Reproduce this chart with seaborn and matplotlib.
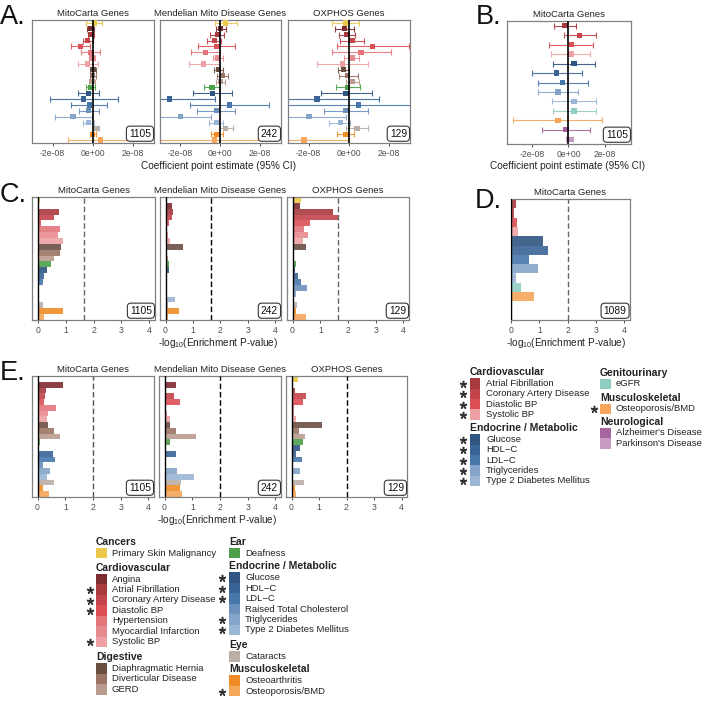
import numpy as np
import pandas as pd
import matplotlib
matplotlib.use("Agg")
import matplotlib.pyplot as plt
import seaborn as sns
from matplotlib.patches import Rectangle
from matplotlib.lines import Line2D

# ---------------- data ----------------
traits = ["Primary Skin Malignancy", "Angina", "Atrial Fibrillation", "Coronary Artery Disease",
          "Diastolic BP", "Hypertension", "Myocardial Infarction", "Systolic BP",
          "Diaphragmatic Hernia", "Diverticular Disease", "GERD", "Deafness",
          "Glucose", "HDL\u2212C", "LDL\u2212C", "Raised Total Cholesterol", "Triglycerides",
          "Type 2 Diabetes Mellitus", "Cataracts", "Osteoarthritis", "Osteoporosis/BMD"]
B_traits = ["Atrial Fibrillation", "Coronary Artery Disease", "Diastolic BP", "Systolic BP",
            "Glucose", "HDL\u2212C", "LDL\u2212C", "Triglycerides", "Type 2 Diabetes Mellitus",
            "eGFR", "Osteoporosis/BMD", "Alzheimer's Disease", "Parkinson's Disease"]
facets = ["MitoCarta Genes", "Mendelian Mito Disease Genes", "OXPHOS Genes"]
facet_counts = [1105, 242, 129]
B_count = 1105
D_count = 1089

trait_colors = {
    "Primary Skin Malignancy": "#EBC84C",
    "Angina": "#7E2B32", "Atrial Fibrillation": "#A8393F", "Coronary Artery Disease": "#C3444A",
    "Diastolic BP": "#DC4F55", "Hypertension": "#E3747A", "Myocardial Infarction": "#E88B8F",
    "Systolic BP": "#EDA1A4",
    "Diaphragmatic Hernia": "#6C4F43", "Diverticular Disease": "#9A7464", "GERD": "#B99C8F",
    "Deafness": "#4DA04B",
    "Glucose": "#2F5580", "HDL\u2212C": "#3A6496", "LDL\u2212C": "#4776AA",
    "Raised Total Cholesterol": "#6C90BC", "Triglycerides": "#85A4C9",
    "Type 2 Diabetes Mellitus": "#9BB5D5",
    "Cataracts": "#BAAEA7", "Osteoarthritis": "#F08C26", "Osteoporosis/BMD": "#F5A65B",
    "eGFR": "#8FCDC3", "Alzheimer's Disease": "#A5659F", "Parkinson's Disease": "#C899C1",
}

# Panel A: coefficient estimates and 95% CI (units of 1e-8)
A_mito_est = [0.10, -0.08, -0.08, -0.25, -0.61, -0.08, -0.03, -0.25, 0.02, 0.00, -0.03, -0.12,
              -0.20, -0.45, -0.15, -0.20, -0.98, -0.20, 0.17, 0.00, 0.38]
A_mito_lo = [-0.31, -0.28, -0.25, -0.48, -1.07, -0.58, -0.20, -0.73, -0.15, -0.15, -0.17, -0.31,
             -0.73, -2.13, -1.06, -0.66, -1.88, -0.48, 0.00, -0.15, -1.22]
A_mito_hi = [0.46, 0.08, 0.08, 0.00, -0.15, 0.38, 0.13, 0.25, 0.18, 0.17, 0.10, 0.10,
             0.33, 1.24, 0.71, 0.33, -0.03, 0.05, 0.33, 0.18, 2.00]
A_men_est = [0.26, 0.00, -0.15, -0.28, -0.20, -0.73, -0.12, -0.83, -0.08, 0.10, 0.02, -0.41,
             -0.40, -2.55, 0.46, -0.20, -1.98, -0.20, 0.26, -0.17, -0.28]
A_men_lo = [-0.28, -0.23, -0.50, -0.64, -1.10, -1.44, -0.36, -1.55, -0.31, -0.17, -0.20, -0.83,
            -1.36, -3.40, -1.49, -1.14, -3.30, -0.56, -0.08, -0.48, -3.60]
A_men_hi = [0.83, 0.30, 0.21, 0.05, 0.76, -0.03, 0.13, -0.07, 0.13, 0.38, 0.26, 0.00,
            0.58, -0.28, 2.45, 0.76, -0.48, 0.13, 0.63, 0.13, 3.60]
A_ox_est = [-0.17, -0.21, -0.08, 0.17, 1.19, 0.61, 0.17, -0.30, -0.26, -0.05, 0.20, -0.05,
            -0.13, -1.57, 0.50, -0.13, -1.98, -0.41, 0.41, -0.13, -2.23]
A_ox_lo = [-0.83, -0.66, -0.50, -0.41, -0.58, -0.83, -0.21, -1.57, -0.55, -0.50, -0.13, -0.63,
           -1.40, -3.40, -3.50, -1.24, -3.30, -0.96, -0.13, -0.58, -3.40]
A_ox_hi = [0.50, 0.25, 0.33, 0.74, 3.01, 2.10, 0.53, 0.94, 0.00, 0.45, 0.53, 0.58,
           1.16, 1.49, 3.60, 0.94, -0.13, 0.08, 0.94, 0.25, -0.05]

# Panel B (units of 1e-8)
B_est = [-0.18, 0.60, 0.15, 0.13, 0.31, -0.67, -0.31, -0.58, 0.31, 0.31, -0.58, -0.13, 0.09]
B_lo = [-0.78, -0.27, -1.09, -0.96, -0.82, -2.00, -1.64, -1.67, -0.91, -0.87, -3.05, -1.42, -0.13]
B_hi = [0.40, 1.49, 1.36, 1.18, 1.45, 0.73, 1.05, 0.51, 1.51, 1.51, 1.85, 1.18, 0.27]

# Panel C: -log10 enrichment p
C_mito = [0.10, 0.03, 0.78, 0.57, 0.12, 0.80, 0.72, 0.90, 0.82, 0.80, 0.58, 0.48,
          0.34, 0.24, 0.18, 0.00, 0.03, 0.06, 0.20, 0.90, 0.22]
C_men = [0.03, 0.24, 0.29, 0.24, 0.12, 0.07, 0.10, 0.15, 0.64, 0.02, 0.10, 0.13,
         0.13, 0.02, 0.03, 0.06, 0.00, 0.34, 0.10, 0.48, 0.10]
C_ox = [0.29, 0.26, 1.45, 1.67, 0.62, 0.40, 0.56, 0.38, 0.48, 0.05, 0.02, 0.14,
        0.08, 0.20, 0.30, 0.52, 0.14, 0.00, 0.17, 0.14, 0.48]
C_thresh = 1.65

# Panel D
D_vals = [0.18, 0.08, 0.20, 0.22, 1.12, 1.29, 0.63, 0.93, 0.16, 0.33, 0.81, 0.03, 0.03]
D_thresh = 2.0

# Panel E
E_mito = [0.02, 0.90, 0.30, 0.28, 0.22, 0.66, 0.36, 0.33, 0.39, 0.60, 0.80, 0.10,
          0.05, 0.54, 0.62, 0.20, 0.46, 0.34, 0.60, 0.20, 0.42]
E_men = [0.03, 0.41, 0.05, 0.35, 0.57, 0.05, 0.08, 0.18, 0.20, 0.43, 1.15, 0.18,
         0.04, 0.41, 0.03, 0.05, 0.45, 1.06, 0.60, 0.54, 0.63]
E_ox = [0.24, 0.05, 0.12, 0.52, 0.40, 0.10, 0.10, 0.18, 1.12, 0.28, 0.48, 0.40,
        0.30, 0.16, 0.39, 0.06, 0.30, 0.02, 0.46, 0.14, 0.18]
E_thresh = 2.0

# legend content
E_legend_left = [("Cancers", ["Primary Skin Malignancy"]),
                 ("Cardiovascular", ["Angina", "Atrial Fibrillation", "Coronary Artery Disease",
                                     "Diastolic BP", "Hypertension", "Myocardial Infarction", "Systolic BP"]),
                 ("Digestive", ["Diaphragmatic Hernia", "Diverticular Disease", "GERD"])]
E_legend_right = [("Ear", ["Deafness"]),
                  ("Endocrine / Metabolic", ["Glucose", "HDL\u2212C", "LDL\u2212C", "Raised Total Cholesterol",
                                             "Triglycerides", "Type 2 Diabetes Mellitus"]),
                  ("Eye", ["Cataracts"]),
                  ("Musculoskeletal", ["Osteoarthritis", "Osteoporosis/BMD"])]
D_legend_left = [("Cardiovascular", ["Atrial Fibrillation", "Coronary Artery Disease", "Diastolic BP", "Systolic BP"]),
                 ("Endocrine / Metabolic", ["Glucose", "HDL\u2212C", "LDL\u2212C", "Triglycerides",
                                            "Type 2 Diabetes Mellitus"])]
D_legend_right = [("Genitourinary", ["eGFR"]),
                  ("Musculoskeletal", ["Osteoporosis/BMD"]),
                  ("Neurological", ["Alzheimer's Disease", "Parkinson's Disease"])]
starred = {"Atrial Fibrillation", "Coronary Artery Disease", "Diastolic BP", "Systolic BP",
           "Glucose", "HDL\u2212C", "LDL\u2212C", "Triglycerides", "Type 2 Diabetes Mellitus",
           "Osteoporosis/BMD"}

# ---------------- drawing ----------------
sns.set_theme(style="white")
plt.rcParams['font.family'] = ['Liberation Sans', 'DejaVu Sans']
plt.rcParams['mathtext.default'] = 'regular'

W, H = 723, 711
fig = plt.figure(figsize=(W / 100, H / 100), dpi=100)
fig.patch.set_facecolor("white")
SCALE = 1e-8
TXT = "#222222"


def add_ax(x0, x1, y0, y1):
    return fig.add_axes([x0 / W, 1 - y1 / H, (x1 - x0) / W, (y1 - y0) / H])


def style_ax(ax):
    for s in ax.spines.values():
        s.set_visible(True)
        s.set_color("#808080")
        s.set_linewidth(0.9)
    ax.tick_params(axis="x", bottom=True, length=2.5, width=0.6, color="#333333",
                   labelsize=6.2, labelcolor="#4d4d4d", pad=1.5)
    ax.tick_params(axis="y", left=False, labelleft=False)
    ax.set_xlabel("")
    ax.set_ylabel("")


def count_box(ax, n):
    ax.text(0.975, 0.035, str(n), transform=ax.transAxes, ha="right", va="bottom",
            fontsize=7.4, color="#111111", zorder=10,
            bbox=dict(boxstyle="round,pad=0.25,rounding_size=0.35", fc="white", ec="#333333", lw=0.8))


def forest(ax, names, est, lo, hi, xlim, title, n):
    df = pd.DataFrame({"trait": names,
                       "est": np.array(est) * SCALE,
                       "lo": np.array(lo) * SCALE,
                       "hi": np.array(hi) * SCALE})
    df["row"] = np.arange(len(df))
    for r in df.itertuples():
        ax.errorbar(r.est, r.row, xerr=[[r.est - r.lo], [r.hi - r.est]], fmt="none",
                    ecolor=trait_colors[r.trait], elinewidth=0.8, capsize=1.9, capthick=0.8,
                    alpha=0.9, zorder=2)
    sns.scatterplot(data=df, x="est", y="row", hue="trait", palette=trait_colors, marker="s",
                    s=15, linewidth=0, legend=False, ax=ax, zorder=3)
    ax.axvline(0, color="black", lw=1.2, zorder=4)
    ax.set_xlim(xlim[0] * SCALE, xlim[1] * SCALE)
    ax.set_ylim(len(df) - 0.5, -0.5)
    ax.set_xticks([-2e-8, 0, 2e-8])
    ax.set_xticklabels(["-2e-08", "0e+00", "2e-08"])
    style_ax(ax)
    ax.set_title(title, fontsize=6.8, pad=3, color=TXT)
    count_box(ax, n)


def bars(ax, names, vals, title, n, thresh, thresh_color, xlim=(-0.2, 4.2)):
    df = pd.DataFrame({"trait": names, "val": vals})
    sns.barplot(data=df, x="val", y="trait", hue="trait", order=names, hue_order=names,
                palette=trait_colors, orient="h", width=1.0, saturation=1, alpha=0.9,
                linewidth=0, errorbar=None, legend=False, ax=ax)
    ax.axvline(0, color="black", lw=1.0, zorder=4)
    ax.axvline(thresh, color=thresh_color, lw=1.0, ls=(0, (4, 2)), zorder=4)
    ax.set_xlim(*xlim)
    ax.set_ylim(len(names) - 0.5, -0.5)
    ax.set_xticks([0, 1, 2, 3, 4])
    ax.set_xticklabels(["0", "1", "2", "3", "4"])
    style_ax(ax)
    ax.set_title(title, fontsize=6.8, pad=3, color=TXT)
    count_box(ax, n)


# Panel A
A_x = [(32, 154), (160, 281), (288, 410)]
A_data = [(A_mito_est, A_mito_lo, A_mito_hi), (A_men_est, A_men_lo, A_men_hi), (A_ox_est, A_ox_lo, A_ox_hi)]
for (x0, x1), (e, l, h), t, n in zip(A_x, A_data, facets, facet_counts):
    ax = add_ax(x0, x1, 20, 143)
    forest(ax, traits, e, l, h, (-3.02, 3.05), t, n)

# Panel B
axB = add_ax(507, 631, 21, 144)
forest(axB, B_traits, B_est, B_lo, B_hi, (-3.36, 3.42), "MitoCarta Genes", B_count)

# Panel C
C_x = [(32, 155), (160, 281), (287, 409)]
C_data = [C_mito, C_men, C_ox]
C_tc = ["#666666", "black", "#666666"]
for (x0, x1), v, t, n, tc in zip(C_x, C_data, facets, facet_counts, C_tc):
    ax = add_ax(x0, x1, 197, 320)
    bars(ax, traits, v, t, n, C_thresh, tc)

# Panel D
axD = add_ax(510.5, 629.5, 199, 320)
bars(axD, B_traits, D_vals, "MitoCarta Genes", D_count, D_thresh, "#666666", xlim=(-0.03, 4.2))

# Panel E
E_x = [(32, 154), (159, 281), (286, 407)]
E_data = [E_mito, E_men, E_ox]
E_tc = ["#555555", "black", "black"]
for (x0, x1), v, t, n, tc in zip(E_x, E_data, facets, facet_counts, E_tc):
    ax = add_ax(x0, x1, 376, 497)
    bars(ax, traits, v, t, n, E_thresh, tc)

# panel letters
for lab, x, y in [("A.", 0, 17), ("B.", 476, 17), ("C.", 0, 195), ("D.", 475, 201), ("E.", 0, 373)]:
    fig.text(x / W, 1 - y / H, lab, fontsize=19.5, ha="left", va="center", color="#111111")

# axis labels
xl_coef = "Coefficient point estimate (95% CI)"
xl_p = "-log$_{10}$(Enrichment P-value)"
for txt, x, y in [(xl_coef, 219, 166), (xl_coef, 567, 166), (xl_p, 218, 343), (xl_p, 566, 343), (xl_p, 217, 520)]:
    fig.text(x / W, 1 - y / H, txt, fontsize=7.2, ha="center", va="center", color=TXT)


# legends
def legend_col(x, spec, heads_y, step, first_off, star_dx):
    for (heading, items), hy in zip(spec, heads_y):
        fig.text(x / W, 1 - hy / H, heading, fontsize=7.5, fontweight="bold", ha="left", va="center", color=TXT)
        for i, name in enumerate(items):
            yy = hy + first_off + i * step
            fig.patches.append(Rectangle((x / W, 1 - (yy + step / 2) / H), 10.5 / W, step / H,
                                         transform=fig.transFigure, facecolor=trait_colors[name],
                                         edgecolor="none"))
            fig.text((x + 16) / W, 1 - yy / H, name, fontsize=6.8, ha="left", va="center", color=TXT)
            if name in starred:
                fig.add_artist(Line2D([(x - star_dx) / W], [1 - (yy + 0.5) / H], transform=fig.transFigure,
                                      marker=(5, 2, 0), markersize=5.2, markeredgewidth=1.1,
                                      color="#333333", linestyle="none"))


legend_col(96, E_legend_left, [541.7, 567.7, 657], 10.45, 11.4, 6)
legend_col(229, E_legend_right, [541.7, 566.3, 645, 669.3], 10.45, 11.4, 7)
legend_col(470, D_legend_left, [372.3, 428.3], 10.35, 11.2, 7)
legend_col(600, D_legend_right, [372.7, 397.7, 421.7], 10.5, 11.2, 6)

fig.savefig("out.png", dpi=100, facecolor="white")
